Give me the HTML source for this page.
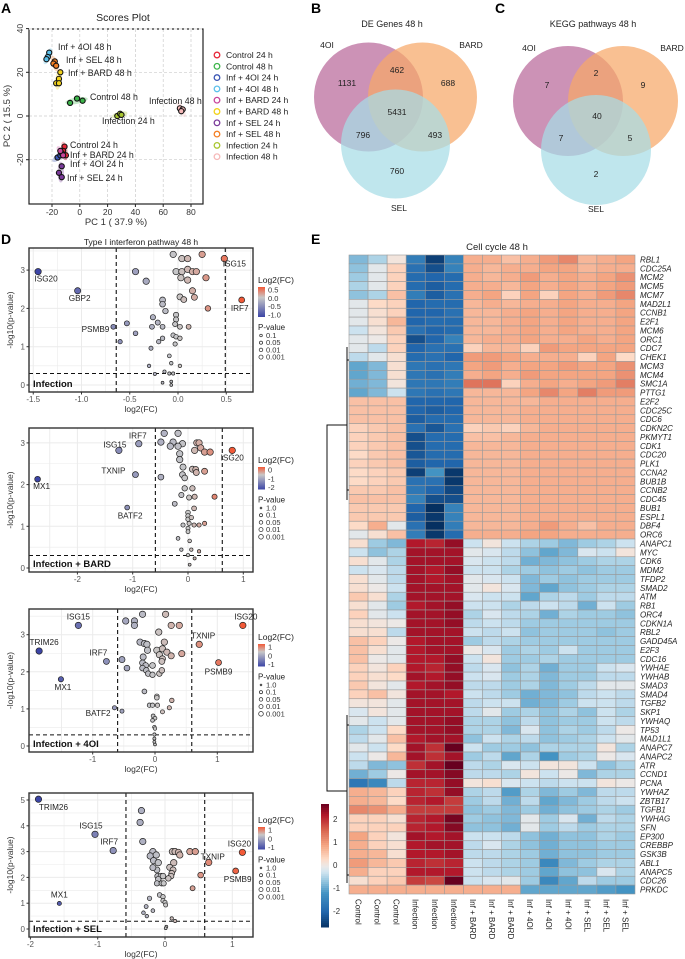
<!DOCTYPE html>
<html><head><meta charset="utf-8"><style>
html,body{margin:0;padding:0;background:#fff;}
svg{display:block;font-family:"Liberation Sans",Arial,sans-serif;}
</style></head><body>
<svg id="fig" width="685" height="959" viewBox="0 0 685 959" xmlns="http://www.w3.org/2000/svg">
<g font-weight="bold" font-size="14">
<text x="1" y="13">A</text>
<text x="311" y="13">B</text>
<text x="495" y="13">C</text>
<text x="1" y="244">D</text>
<text x="311" y="244">E</text>
</g>
<g id="pA"></g>
<g id="pB"></g>
<g id="pC"></g>
<g id="pD"></g>
<g id="pE"></g>
</svg>
<script>
// ---------- Panel A data ----------
const pcaGroups = ["Control 24 h","Control 48 h","Inf + 4OI 24 h","Inf + 4OI 48 h","Inf + BARD 24 h","Inf + BARD 48 h","Inf + SEL 24 h","Inf + SEL 48 h","Infection 24 h","Infection 48 h"];
const pcaColors = ["#e8283a","#3cb54a","#3a55b4","#5bc0eb","#c8459c","#f2d21b","#7a3a9a","#f47f24","#a9c62f","#f6b9b9"];
const pcaPC1 = [[-11,-12,-10],[-7,-2,2],[-16,-14],[-22,-23,-24],[-13,-12,-14],[-14,-15,-17,-15],[-13,-15,-13],[-18,-19,-17],[27,29,30],[72,74,73]];
const pcaPC2 = [[-14,-16,-18],[6,8,7],[-19,-18],[29,27,26],[-17,-18,-16],[20,17,15,15],[-23,-26,-28],[25,24,23],[0,1,0.5],[3.5,3,2.2]];
const pcaXTicks = [-20,0,20,40,60,80];
const pcaYTicks = [-20,0,20,40];
// ---------- Venn data ----------
const vennDE = ["1131","462","688","5431","796","493","760"];
const vennKEGG = ["7","2","9","40","7","5","2"];
const vennSets = ["4OI","BARD","SEL"];
// ---------- Volcano data ----------
const v1FC=[-1.45,-1.04,-0.67,0.48,0.66,-0.44,-0.33,-0.05,0.04,0.10,0.25,-0.02,0.04,0.10,0.15,0.19,0.03,0.10,0.29,0.15,0.17,0.02,0.06,0.31,-0.16,-0.16,-0.13,-0.02,-0.02,-0.26,-0.21,-0.27,-0.16,-0.53,-0.44,-0.03,0.02,0.11,-0.16,-0.05,-0.02,0.02,-0.03,-0.20,-0.28,-0.60,-0.09,-0.07,0.02,-0.30,-0.14,-0.24,-0.09,-0.05,-0.16,-0.07,-0.07];
const v1P=[2.96,2.46,1.52,3.30,2.22,2.96,2.71,3.41,3.30,3.30,3.41,2.96,2.96,3.02,2.96,2.96,2.80,2.74,2.80,2.46,2.29,2.30,2.23,2.00,2.22,2.11,1.93,1.83,1.71,1.77,1.63,1.52,1.52,1.61,1.35,1.59,1.52,1.52,1.22,1.30,1.26,1.22,1.07,1.13,0.96,1.13,0.76,0.57,0.50,0.50,0.35,0.29,0.30,0.30,0.06,0.09,0.0];
const v1Labels=["ISG20","GBP2","PSMB9","ISG15","IRF7"];
const v2FC=[-2.72,-1.25,-0.89,-0.95,-1.10,0.80,0.48,-0.43,-0.18,-0.49,-0.27,-0.10,-0.32,-0.18,0.16,0.20,0.23,0.12,0.30,0.40,-0.15,-0.15,-0.09,-0.10,0.08,0.14,0.15,0.30,-0.06,-0.49,-0.06,0.08,-0.12,0.02,0.12,-0.24,0.11,0,0,0,0.06,-0.09,0.02,0.11,0,0.20,0.30,0,-0.18,0.03,-0.12,0.06,0.20,0,0.12,0.03];
const v2P=[2.13,2.82,2.98,2.24,1.45,2.82,1.71,3.23,3.23,3.02,3.02,2.98,2.92,2.92,3.00,3.00,2.88,2.82,2.78,2.78,2.74,2.60,2.42,2.24,2.37,2.36,2.29,2.32,2.16,2.18,1.91,1.91,1.75,1.69,1.71,1.54,1.43,1.33,1.25,1.17,1.21,1.03,1.07,1.03,0.95,1.03,1.07,0.87,0.71,0.65,0.44,0.44,0.40,0.31,0.23,0.08];
const v2Labels=["MX1","ISG15","IRF7","TXNIP","BATF2","ISG20"];
const v3FC=[-1.23,-1.86,-1.51,-0.78,-0.65,-0.53,1.41,0.71,1.02,0.43,-0.20,0.17,-0.47,-0.33,-0.33,0.26,0.39,0.06,-0.24,-0.17,-0.13,0.15,0.03,-0.12,0.12,0.19,0.26,0.07,-0.53,-0.45,-0.19,-0.20,-0.15,-0.04,0.12,0.11,-0.20,-0.14,-0.11,-0.04,0.07,0.11,-0.17,0.03,0.03,-0.09,-0.04,0.04,0.12,0.23,0.27,-0.03,0,-0.04,-0.01,0,-0.01,-0.01,-0.01,0];
const v3P=[3.25,2.56,1.80,2.28,1.03,0.94,3.25,2.74,2.25,2.49,3.55,3.55,3.37,3.37,3.25,3.25,3.25,3.07,2.80,2.76,2.74,2.80,2.58,2.58,2.62,2.53,2.43,2.46,2.33,2.10,2.40,2.24,2.17,2.17,2.35,2.28,2.10,2.04,1.95,1.92,1.95,2.04,1.47,1.34,1.30,1.10,1.10,1.10,0.92,1.03,1.23,0.81,0.75,0.69,0.51,0.47,0.31,0.20,0.11,0.04];
const v3Labels=["ISG15","TRIM26","MX1","IRF7","BATF2","","ISG20","TXNIP","PSMB9"];
const v4FC=[-1.88,-1.04,-0.77,-1.57,1.15,0.65,1.05,0.53,0.41,-0.35,-0.37,-0.33,-0.18,-0.22,-0.13,0.11,0.15,0.20,0.22,0.37,0.45,-0.17,-0.10,-0.12,-0.18,0.13,0.07,0.12,0.10,0.09,0.05,-0.11,-0.06,-0.03,-0.10,-0.12,-0.05,-0.02,-0.23,-0.08,-0.03,-0.03,0,0.01,-0.28,-0.18,-0.32,-0.27,0.02,0.01,0.10,0.15];
const v4P=[5.03,3.67,3.04,0.99,2.97,2.58,2.25,2.09,1.58,4.59,4.13,3.39,3.00,2.83,2.87,3.00,3.00,2.97,2.87,3.00,3.00,2.65,2.57,2.29,2.38,2.57,2.39,2.29,2.16,2.05,1.96,2.05,2.05,2.05,1.93,1.77,1.77,1.77,1.19,1.32,1.25,1.10,1.03,0.93,0.87,0.71,0.63,0.50,0.09,0.03,0.41,0.31];
const v4Labels=["TRIM26","ISG15","IRF7","MX1","ISG20","TXNIP","PSMB9"];
const v1XTicks=[-1.5,-1.0,-0.5,0.0,0.5], v2XTicks=[-2,-1,0,1], v3XTicks=[-1,0,1], v4XTicks=[-2,-1,0,1];
const v1YTicks=[0,1,2,3], v2YTicks=[0,1,2,3], v3YTicks=[0,1,2,3], v4YTicks=[0,1,2,3,4,5];
const v1LegTicks=["0.5","0.0","-0.5","-1.0"], v2LegTicks=["0","-1","-2"], v3LegTicks=["1","0","-1"], v4LegTicks=["1","0","-1"];
const pvalLegend4=["0.1","0.05","0.01","0.001"], pvalLegend5=["1.0","0.1","0.05","0.01","0.001"];
// ---------- Heatmap data ----------
const hmCols=["Control","Control","Control","Infection","Infection","Infection","Inf + BARD","Inf + BARD","Inf + BARD","Inf + 4OI","Inf + 4OI","Inf + 4OI","Inf + SEL","Inf + SEL","Inf + SEL"];
const hmGenes=["RBL1","CDC25A","MCM2","MCM5","MCM7","MAD2L1","CCNB1","E2F1","MCM6","ORC1","CDC7","CHEK1","MCM3","MCM4","SMC1A","PTTG1","E2F2","CDC25C","CDC6","CDKN2C","PKMYT1","CDK1","CDC20","PLK1","CCNA2","BUB1B","CCNB2","CDC45","BUB1","ESPL1","DBF4","ORC6","ANAPC1","MYC","CDK6","MDM2","TFDP2","SMAD2","ATM","RB1","ORC4","CDKN1A","RBL2","GADD45A","E2F3","CDC16","YWHAE","YWHAB","SMAD3","SMAD4","TGFB2","SKP1","YWHAQ","TP53","MAD1L1","ANAPC7","ANAPC2","ATR","CCND1","PCNA","YWHAZ","ZBTB17","TGFB1","YWHAG","SFN","EP300","CREBBP","GSK3B","ABL1","ANAPC5","CDC26","PRKDC"];
const hmValues=[
[-0.8,-0.5,0.1,-1.6,-2.5,-1.5,0.8,0.8,0.6,0.8,1.0,1.2,0.7,0.8,0.9],
[-0.7,-0.1,0.4,-1.8,-2.3,-1.5,0.8,0.7,0.8,0.8,0.9,0.9,0.7,0.8,0.8],
[-0.6,-0.1,0.4,-1.9,-2.0,-1.9,0.8,0.7,0.8,1.0,0.8,0.9,0.8,0.9,1.1],
[-0.5,-0.1,0.4,-1.9,-2.1,-1.9,0.8,0.8,0.7,0.9,0.8,0.9,0.8,0.9,1.0],
[-0.7,-0.5,0.6,-1.6,-2.1,-1.8,0.8,0.9,0.4,0.9,0.4,0.9,0.8,1.0,1.2],
[-0.1,0.3,0.4,-2.0,-1.9,-1.9,0.7,0.8,0.7,0.8,0.8,0.9,0.8,0.8,0.9],
[-0.1,0.2,0.4,-2.0,-2.0,-1.8,0.7,0.7,0.8,0.9,0.8,0.9,0.8,0.8,0.9],
[-0.1,0.2,0.7,-2.0,-1.9,-1.9,0.7,0.7,0.8,0.9,0.8,0.9,0.8,0.8,0.9],
[-0.3,0.1,0.5,-1.8,-2.0,-1.9,0.7,0.7,0.8,0.9,0.8,0.9,0.8,0.8,0.9],
[-0.1,0.0,0.4,-2.3,-2.0,-1.5,0.7,0.8,0.8,0.9,0.8,0.8,0.9,0.8,0.9],
[-0.1,-0.4,0.4,-2.0,-1.8,-1.8,0.4,0.7,0.7,0.4,1.0,0.9,0.9,0.9,0.9],
[-0.4,-0.1,0.2,-1.9,-1.8,-2.0,1.0,1.0,0.9,0.8,0.8,0.8,0.4,0.9,0.3],
[-1.0,-0.8,0.2,-1.7,-1.8,-1.7,0.9,1.0,0.8,0.9,0.9,1.0,0.9,0.9,1.1],
[-1.0,-0.8,0.2,-1.7,-1.8,-1.6,0.8,0.9,0.8,1.0,0.9,0.9,0.9,0.9,1.1],
[-0.9,-0.8,0.1,-1.7,-1.7,-1.6,1.4,1.4,0.4,0.8,0.9,0.8,0.9,1.0,1.3],
[-1.0,-0.8,-0.3,-1.7,-1.8,-1.7,0.7,0.7,0.7,0.9,1.2,0.9,1.3,1.0,1.0],
[0.6,0.6,0.6,-2.0,-2.0,-2.0,0.7,0.7,0.7,0.7,0.8,0.8,0.8,0.8,0.8],
[0.6,0.6,0.6,-2.0,-2.1,-2.0,0.7,0.7,0.7,0.8,0.8,0.8,0.8,0.8,0.8],
[0.6,0.6,0.6,-2.1,-1.9,-1.9,0.7,0.7,0.7,0.8,0.8,0.8,0.8,0.8,0.8],
[0.4,0.5,0.6,-1.8,-2.2,-1.8,0.4,0.5,0.4,0.7,0.8,0.8,0.8,0.8,0.8],
[0.4,0.5,0.6,-2.3,-1.9,-1.9,0.6,0.6,0.7,0.8,0.8,0.8,0.8,0.8,0.8],
[0.4,0.5,0.6,-2.3,-1.9,-1.9,0.7,0.7,0.7,0.8,0.8,0.8,0.8,0.8,0.8],
[0.3,0.5,0.6,-2.2,-1.9,-1.9,0.7,0.7,0.7,0.8,0.8,0.8,0.8,0.8,0.8],
[0.4,0.5,0.6,-2.1,-2.0,-2.0,0.7,0.7,0.7,0.8,0.8,0.8,0.8,0.8,0.8],
[0.3,0.4,0.5,-2.5,-1.2,-2.6,0.7,0.7,0.7,0.8,0.8,0.8,0.8,0.8,0.8],
[0.3,0.4,0.5,-1.8,-1.8,-2.6,0.7,0.7,0.7,0.8,0.8,0.8,0.8,0.8,0.8],
[0.5,0.5,0.6,-1.7,-2.0,-2.4,0.7,0.7,0.7,0.8,0.8,0.8,0.8,0.8,0.8],
[0.6,0.6,0.6,-1.5,-2.3,-2.3,0.7,0.7,0.7,0.8,0.8,0.8,0.8,0.8,0.8],
[0.5,0.5,0.5,-2.0,-2.7,-1.5,0.7,0.7,0.7,0.8,0.8,0.8,0.8,0.8,0.8],
[0.5,0.5,0.5,-2.1,-2.6,-1.5,0.7,0.7,0.7,0.8,0.8,0.8,0.8,0.8,0.8],
[0.3,0.8,-0.1,-1.8,-2.7,-1.6,0.7,0.7,0.7,0.8,1.0,0.8,0.6,0.8,0.8],
[-0.1,0.2,0.6,-1.6,-2.6,-1.9,0.8,0.8,0.8,0.9,0.9,0.8,0.8,0.8,0.8],
[0.2,-0.6,-0.8,2.2,2.1,2.4,-0.3,0.1,-0.3,-0.5,-0.6,-0.8,-0.6,-0.5,-0.3],
[-0.3,-0.7,-0.5,2.3,2.3,2.3,-0.1,-0.2,-0.4,-0.7,-1.0,-0.8,-0.2,-0.3,0.1],
[0.2,-0.1,-0.5,2.3,2.3,2.3,-0.2,-0.3,-0.4,-0.9,-0.8,-0.7,-0.6,-0.5,-0.5],
[-0.3,-0.2,-0.4,2.3,2.2,2.4,-0.3,-0.3,-0.5,-0.6,-0.7,-0.6,-0.7,-0.6,-0.6],
[0.2,-0.1,-0.4,2.3,2.2,2.3,-0.1,-0.2,-0.3,-0.8,-0.6,-0.7,-0.6,-0.6,-0.6],
[0.2,0.0,-0.3,2.3,2.3,2.3,-0.1,0.1,-0.2,-0.8,-1.0,-0.7,-0.6,-0.5,-0.5],
[0.5,0.2,-0.5,2.3,2.3,2.3,-0.2,-0.3,-0.3,-1.0,-0.5,-0.4,-0.6,-0.4,-0.4],
[0.2,-0.1,-0.6,2.2,2.3,2.4,-0.3,-0.3,-0.5,-0.4,-0.3,-0.4,-0.9,-0.3,-0.6],
[0.4,-0.1,-0.3,2.3,2.3,2.4,-0.5,-0.2,-0.4,-0.5,-0.9,-0.5,-0.6,-0.6,-0.7],
[0.2,0.1,0.0,2.3,2.3,2.4,-0.4,-0.3,-0.4,-0.6,-0.6,-0.6,-0.6,-0.6,-0.6],
[0.2,0.2,-0.4,2.3,2.3,2.3,-0.3,-0.4,-0.3,-0.7,-0.6,-0.6,-0.6,-0.7,-0.6],
[0.6,0.4,0.0,2.2,2.3,2.3,-0.6,-0.4,-0.5,-0.6,-0.6,-0.6,-0.6,-0.6,-0.6],
[0.6,0.2,-0.1,2.2,2.3,2.3,0.0,-0.2,-0.6,-0.5,-0.6,-0.3,-0.6,-0.6,-0.6],
[0.6,0.0,-0.1,2.2,2.2,2.4,-0.3,0.1,-0.6,-0.6,-0.5,-0.6,-0.6,-0.6,-0.6],
[0.4,0.1,0.4,2.2,2.1,2.4,-0.4,-0.2,-0.7,-0.5,-0.9,-0.6,-0.6,-0.3,-0.2],
[0.4,0.2,0.3,2.3,2.2,2.4,-0.3,-0.2,-0.6,-0.5,-0.8,-0.6,-0.6,-0.4,-0.4],
[0.5,0.1,-0.1,2.2,2.3,2.4,-0.4,-0.4,-0.6,-0.5,-0.8,-0.6,-0.4,-0.1,-0.1],
[0.4,0.6,0.1,2.3,2.3,2.2,-0.3,-0.4,-0.6,-0.9,-0.8,-0.7,-0.4,-0.3,-0.4],
[0.1,0.1,-0.1,2.3,2.3,2.3,-0.4,-0.3,-0.3,-0.9,-0.8,-0.6,-0.3,-0.3,-0.4],
[-0.2,0.1,-0.1,2.3,2.3,2.3,-0.4,-0.1,-0.6,-0.5,-0.7,-0.5,-0.7,-0.3,-0.5],
[-0.1,-0.3,-0.1,2.3,2.3,2.4,-0.5,-0.5,-0.7,-0.4,-0.7,-0.6,-0.6,-0.3,-0.4],
[-0.5,-0.3,0.3,2.3,2.3,2.4,-0.5,-0.5,-0.8,-0.2,-0.7,-0.5,-0.6,-0.4,0.0],
[-0.4,-0.1,0.6,2.2,2.3,2.3,-0.7,-0.3,-0.5,-0.4,-0.7,-0.6,-0.5,-0.3,-0.1],
[-0.1,-0.3,0.3,2.3,2.0,2.7,-0.3,-0.6,-0.6,-0.7,-0.5,-0.5,-0.5,0.1,-0.5],
[-0.3,0.0,0.7,2.3,2.0,2.3,-0.6,-0.4,-1.0,-0.5,-1.2,-0.6,-0.5,0.0,-0.2],
[-0.4,-0.8,-0.7,2.0,2.3,2.8,-0.4,-0.5,-0.2,-0.3,0.1,0.1,-0.3,-0.7,-0.5],
[-0.9,-0.6,0.0,2.3,2.3,2.5,-0.4,-0.4,-0.5,0.1,-0.3,0.0,-0.8,-0.5,-0.5],
[-1.7,-1.4,-0.4,2.1,2.1,2.4,0.1,0.2,-0.2,-0.3,-0.4,-0.3,-0.3,0.1,0.0],
[0.8,0.7,0.4,2.1,2.0,2.4,-0.5,-0.4,-1.1,-0.5,-0.8,-0.6,-0.8,-0.4,-0.4],
[0.8,0.7,0.3,2.1,2.2,1.9,-0.6,-0.4,-0.9,-0.4,-1.0,-0.8,-0.6,-0.4,-0.3],
[1.2,1.1,0.8,1.9,1.9,1.9,-0.7,-0.6,-0.8,-0.6,-0.9,-0.7,-0.6,-0.5,-0.6],
[0.4,0.4,0.2,2.1,2.2,2.6,-0.6,-0.7,-0.8,-0.1,-0.6,-0.2,-0.9,-0.4,-0.5],
[0.4,0.4,0.4,2.1,2.2,2.5,-0.7,-0.7,-0.9,-0.1,-0.6,-0.4,-0.6,-0.5,-0.5],
[0.9,0.4,0.1,2.3,2.2,2.3,-0.3,-0.3,-0.4,-0.7,-0.9,-0.7,-0.7,-0.5,-0.6],
[0.8,0.4,0.2,2.2,2.3,2.3,-0.4,-0.2,-0.5,-0.7,-0.9,-0.7,-0.7,-0.6,-0.6],
[0.8,0.7,0.2,2.2,2.2,2.3,-0.4,-0.4,-0.5,-0.6,-0.9,-0.7,-0.7,-0.6,-0.6],
[1.0,0.7,0.5,2.1,2.0,2.1,-0.3,-0.4,-0.5,-0.6,-1.4,-0.8,-0.6,-0.5,-0.5],
[0.8,0.4,0.4,2.2,2.2,2.2,-0.3,-0.4,-0.5,-0.6,-1.0,-0.7,-0.7,-0.2,-0.5],
[0.2,0.4,0.5,1.9,1.8,2.7,-0.3,-0.2,-0.1,-0.6,-1.4,-1.0,-0.4,-0.6,-0.6],
[0.8,0.8,0.8,0.8,0.8,0.8,0.8,0.8,0.8,-1.0,-1.0,-1.0,-1.0,-1.1,-1.2]];
const hmLegendTicks=[2,1,0,-1,-2];

// ---------- helpers ----------
const NS="http://www.w3.org/2000/svg";
function mk(parent,tag,attrs,text){const e=document.createElementNS(NS,tag);for(const k in attrs)e.setAttribute(k,attrs[k]);if(text!==undefined)e.textContent=text;parent.appendChild(e);return e;}
function hex2rgb(h){return [parseInt(h.substr(1,2),16),parseInt(h.substr(3,2),16),parseInt(h.substr(5,2),16)];}
function mix(a,b,t){const A=hex2rgb(a),B=hex2rgb(b);return "rgb("+A.map((v,i)=>Math.round(v+(B[i]-v)*t)).join(",")+")";}

// ---------- Panel A ----------
(function(){
  const g=document.getElementById('pA');
  const L=29,R=203,T=29,B=204;
  const sx=v=>52+(v+20)*1.39, sy=v=>116-v*2.185;
  mk(g,'text',{x:123,y:21,'text-anchor':'middle','font-size':10.5,fill:'#222',},'Scores Plot');
  const grid=mk(g,'g',{});
  pcaXTicks.forEach(t=>{const l=mk(grid,'line',{x1:sx(t),x2:sx(t),y1:T,y2:B,stroke:'#ccc','stroke-dasharray':'3,2','stroke-width':0.7});});
  pcaYTicks.forEach(t=>{const l=mk(grid,'line',{x1:L,x2:R,y1:sy(t),y2:sy(t),stroke:'#ccc','stroke-dasharray':'3,2','stroke-width':0.7});});
  pcaGroups.forEach((n,i)=>{
    const xs=pcaPC1[i].map(sx), ys=pcaPC2[i].map(sy);
    const cx=xs.reduce((a,b)=>a+b)/xs.length, cy=ys.reduce((a,b)=>a+b)/ys.length;
    let dx=xs[xs.length-1]-xs[0], dy=ys[ys.length-1]-ys[0];
    let len=Math.max(Math.hypot(dx,dy),6), ang=Math.atan2(dy,dx)*180/Math.PI;
    const e=mk(g,'ellipse',{cx:cx,cy:cy,rx:len/2+5,ry:3.2,transform:`rotate(${ang} ${cx} ${cy})`,fill:pcaColors[i],opacity:0.3});
    
  });
  pcaGroups.forEach((n,i)=>{
    pcaPC1[i].forEach((v,j)=>{
      const c=mk(g,'circle',{cx:sx(v),cy:sy(pcaPC2[i][j]),r:2.6,fill:pcaColors[i],stroke:'#111','stroke-width':1.1});
      
    });
  });
  mk(g,'rect',{x:L,y:T,width:R-L,height:B-T,fill:'none',stroke:'#222','stroke-width':1.2,});
  mk(g,'line',{x1:L,x2:R,y1:T,y2:T,stroke:'#fff','stroke-width':1.2,'stroke-dasharray':'3,2'});
  const lbl=[["Inf + 4OI 48 h",58,50],["Inf + SEL 48 h",66,63],["Inf + BARD 48 h",68,76],["Control 48 h",90,100],["Infection 48 h",149,104],["Infection 24 h",102,124],["Control 24 h",70,148],["Inf + BARD 24 h",70,158],["Inf + 4OI 24 h",70,167],["Inf + SEL 24 h",67,181]];
  lbl.forEach(a=>{mk(g,'text',{x:a[1],y:a[2],'font-size':8.8,fill:'#222',},a[0]);});
  pcaXTicks.forEach(t=>{mk(g,'line',{x1:sx(t),x2:sx(t),y1:B,y2:B+3,stroke:'#222'});mk(g,'text',{x:sx(t),y:B+11,'text-anchor':'middle','font-size':8.5,fill:'#333',},t);});
  pcaYTicks.forEach(t=>{mk(g,'line',{x1:L-3,x2:L,y1:sy(t),y2:sy(t),stroke:'#222'});mk(g,'text',{x:L-6,y:sy(t),'text-anchor':'middle','font-size':8.5,fill:'#333',transform:`rotate(-90 ${L-6} ${sy(t)})`,},t);});
  mk(g,'text',{x:116,y:225,'text-anchor':'middle','font-size':9.5,fill:'#333',},'PC 1 ( 37.9 %)');
  mk(g,'text',{x:10,y:116,'text-anchor':'middle','font-size':9.5,fill:'#333',transform:'rotate(-90 10 116)',},'PC 2 ( 15.5 %)');
  pcaGroups.forEach((n,i)=>{
    const y=55+i*11.3;
    const le=mk(g,'g',{});
    mk(le,'circle',{cx:217,cy:y,r:2.8,fill:'none',stroke:pcaColors[i],'stroke-width':1.3});
    mk(le,'text',{x:226,y:y+3,'font-size':8.6,fill:'#222'},n);
  });
})();

// ---------- Venns ----------
function venn(id,title,tx,c1,c2,c3,r,nums,numPos,labPos){
  const g=document.getElementById(id);
  mk(g,'text',{x:tx,y:27,'text-anchor':'middle','font-size':9,fill:'#222',},title);
  const cols=['#b9689a','#f6a868','#a6dce6'];
  [c1,c2,c3].forEach((c,i)=>{const e=mk(g,'circle',{cx:c[0],cy:c[1],r:r,fill:cols[i],'fill-opacity':0.72});});
  nums.forEach((n,i)=>{const t=mk(g,'text',{x:numPos[i][0],y:numPos[i][1],'text-anchor':'middle','font-size':8.5,fill:'#222'},n);});
  vennSets.forEach((s,i)=>{const t=mk(g,'text',{x:labPos[i][0],y:labPos[i][1],'text-anchor':'middle','font-size':8.5,fill:'#222'},s);});
}
venn('pB','DE Genes 48 h',392,[368.5,97],[422.5,97],[395.5,144],54.5,vennDE,
 [[347,86],[397,73],[448,86],[397,115],[363,138],[435,138],[397,174]],[[327,48],[471,48],[399,211]]);
venn('pC','KEGG pathways 48 h',593,[568,101],[623,101],[596,150],55,vennKEGG,
 [[547,88],[596,76],[643,88],[597,119],[561,141],[630,141],[596,177]],[[529,51],[672,51],[596,212]]);

// ---------- Volcanoes ----------
function volcano(cfg,fc,pv,labels,xt,yt,legT,pLeg){
  const g=mk(document.getElementById('pD'),'g',{});
  
  const [L,T,R,B]=cfg.box;
  const sx=v=>cfg.x0+v*cfg.xu, sy=v=>cfg.y0-v*cfg.yu;
  mk(g,'rect',{x:L,y:T,width:R-L,height:B-T,fill:'#fff'});
  xt.forEach(t=>{[t,t+(xt[1]-xt[0])/2].forEach((u,k)=>{const x=sx(u);if(x>L&&x<R)mk(g,'line',{x1:x,x2:x,y1:T,y2:B,stroke:'#ebebeb','stroke-width':k?0.6:1});});
    const x=sx(xt[0]-(xt[1]-xt[0])/2); if(x>L) mk(g,'line',{x1:x,x2:x,y1:T,y2:B,stroke:'#ebebeb','stroke-width':0.6});});
  yt.forEach(t=>{[t,t+0.5].forEach((u,k)=>{const y=sy(u);if(y>T&&y<B)mk(g,'line',{x1:L,x2:R,y1:y,y2:y,stroke:'#ebebeb','stroke-width':k?0.6:1});});});
  cfg.vl.forEach(v=>{const l=mk(g,'line',{x1:sx(v),x2:sx(v),y1:T,y2:B,stroke:'#111','stroke-width':1.1,'stroke-dasharray':'4,3'});});
  const hl=mk(g,'line',{x1:L,x2:R,y1:sy(0.3),y2:sy(0.3),stroke:'#111','stroke-width':1.1,'stroke-dasharray':'4,3'});
  
  const mn=Math.min(...fc), mx=Math.max(...fc);
  const col=v=>v<0?mix('#c8c8c8','#3c45a6',Math.min(1,v/mn)):mix('#c8c8c8','#f25a38',Math.min(1,v/mx));
  fc.forEach((v,i)=>{
    const r=Math.min(3.2,1.4+pv[i]*0.7);
    const c=mk(g,'circle',{cx:sx(v),cy:sy(pv[i]),r:r,fill:col(v),stroke:'#222','stroke-width':0.7});
    
  });
  labels.forEach((s,i)=>{ if(!s) return; const o=cfg.lo[s]||[0,10,'middle'];
    const t=mk(g,'text',{x:sx(fc[i])+o[0],y:sy(pv[i])+o[1],'text-anchor':o[2]||'middle','font-size':8.2,fill:'#222'},s);
    });
  mk(g,'text',{x:L+4,y:B-5,'font-size':9.5,'font-weight':'bold',fill:'#111',},cfg.label);
  mk(g,'rect',{x:L,y:T,width:R-L,height:B-T,fill:'none',stroke:'#333','stroke-width':1.4});
  xt.forEach(t=>{mk(g,'line',{x1:sx(t),x2:sx(t),y1:B,y2:B+2.5,stroke:'#333'});mk(g,'text',{x:sx(t),y:B+10,'text-anchor':'middle','font-size':8,fill:'#555',},cfg.xfmt?t.toFixed(1):t);});
  yt.forEach(t=>{mk(g,'line',{x1:L-2.5,x2:L,y1:sy(t),y2:sy(t),stroke:'#333'});mk(g,'text',{x:L-4,y:sy(t)+3,'text-anchor':'end','font-size':8,fill:'#555',},t);});
  mk(g,'text',{x:(L+R)/2,y:B+20,'text-anchor':'middle','font-size':8.5,fill:'#333',},'log2(FC)');
  const ym=(T+B)/2;
  mk(g,'text',{x:13,y:ym,'text-anchor':'middle','font-size':8.5,fill:'#333',transform:`rotate(-90 13 ${ym})`,},'-log10(p-value)');
  const lg=mk(g,'g',{});
  const ly=cfg.leg;
  mk(lg,'text',{x:258,y:ly,'font-size':8.5,fill:'#222'},'Log2(FC)');
  const gid='grad'+cfg.name;
  const defs=mk(lg,'defs',{});const lgr=mk(defs,'linearGradient',{id:gid,x1:0,y1:0,x2:0,y2:1});
  mk(lgr,'stop',{offset:'0','stop-color':'#f25a38'});mk(lgr,'stop',{offset:'0.35','stop-color':'#c8c8c8'});mk(lgr,'stop',{offset:'1','stop-color':'#3c45a6'});
  const bh=legT.length*7.5;
  mk(lg,'rect',{x:258,y:ly+4,width:7,height:bh,fill:`url(#${gid})`});
  legT.forEach((t,i)=>{const yy=ly+7+i*(bh-5)/(legT.length-1);mk(lg,'text',{x:268,y:yy+2.5,'font-size':7.5,fill:'#333'},t);});
  const py=ly+bh+17;
  mk(lg,'text',{x:258,y:py,'font-size':8,fill:'#222'},'P-value');
  pLeg.forEach((t,i)=>{const yy=py+8+i*7.2;const rr=(t==='1.0')?0.9:1.3+i*0.25;mk(lg,'circle',{cx:261,cy:yy-2.5,r:rr,fill:'#fff',stroke:'#222','stroke-width':0.7});mk(lg,'text',{x:266,y:yy,'font-size':7.5,fill:'#333'},t);});
}
mk(document.getElementById('pD'),'text',{x:141,y:245,'text-anchor':'middle','font-size':8.5,fill:'#222',},'Type I interferon pathway 48 h');
volcano({name:'volcano-infection',box:[29,248,253,392],x0:178,xu:96.5,y0:385,yu:38.3,vl:[-0.64,0.49],label:'Infection',leg:283,xfmt:true,
  lo:{ISG20:[8,10],GBP2:[2,10],PSMB9:[-4,5,'end'],ISG15:[10,8],IRF7:[-2,11]}},v1FC,v1P,v1Labels,v1XTicks,v1YTicks,v1LegTicks,pvalLegend4);
volcano({name:'volcano-bard',box:[29,428,253,572],x0:188,xu:55.3,y0:568,yu:41.7,vl:[-0.59,0.62],label:'Infection + BARD',leg:463,
  lo:{MX1:[4,10],ISG15:[-4,-3],IRF7:[-1,-5],TXNIP:[-22,-1],BATF2:[3,11],ISG20:[0,10]}},v2FC,v2P,v2Labels,v2XTicks,v2YTicks,v2LegTicks,pvalLegend5);
volcano({name:'volcano-4oi',box:[29,609,253,752],x0:155,xu:62.3,y0:746,yu:37.1,vl:[-0.6,0.59],label:'Infection + 4OI',leg:640,
  lo:{ISG15:[0,-6],TRIM26:[5,-6],MX1:[2,11],IRF7:[-8,-6],BATF2:[-4,8,'end'],ISG20:[3,-6],TXNIP:[4,-6],PSMB9:[0,12]}},v3FC,v3P,v3Labels,v3XTicks,v3YTicks,v3LegTicks,pvalLegend5);
volcano({name:'volcano-sel',box:[29,793,253,937],x0:165,xu:67.3,y0:929,yu:25.8,vl:[-0.58,0.59],label:'Infection + SEL',leg:823,
  lo:{TRIM26:[15,11],ISG15:[-4,-6],IRF7:[-4,-6],MX1:[0,-6],ISG20:[-3,-6],TXNIP:[4,-3],PSMB9:[2,11]}},v4FC,v4P,v4Labels,v4XTicks,v4YTicks,v4LegTicks,pvalLegend5);

// ---------- Heatmap ----------
(function(){
  const g=document.getElementById('pE');
  const X0=349, Y0=255, cw=(635-349)/15, rh=(894-255)/72;
  const stops=[[-2.7,'#053061'],[-2.0,'#2166ac'],[-1.2,'#4393c3'],[-0.6,'#9ecbe2'],[-0.25,'#d4e6f1'],[0,'#ece8e6'],[0.3,'#fddbc7'],[0.9,'#f4a582'],[1.6,'#d6604d'],[2.2,'#b2182b'],[2.7,'#67001f']];
  const cmap=v=>{if(v<=stops[0][0])return stops[0][1];for(let i=1;i<stops.length;i++){if(v<=stops[i][0]){const t=(v-stops[i-1][0])/(stops[i][0]-stops[i-1][0]);return mix(stops[i-1][1],stops[i][1],t);}}return stops[stops.length-1][1];};
  mk(g,'text',{x:497,y:250,'text-anchor':'middle','font-size':9.5,fill:'#222',},'Cell cycle 48 h');
  hmValues.forEach((row,r)=>{row.forEach((v,c)=>{
    const e=mk(g,'rect',{x:X0+c*cw,y:Y0+r*rh,width:cw,height:rh,fill:cmap(v),stroke:'#9a9a9a','stroke-width':0.6});
    
  });});
  hmGenes.forEach((n,r)=>{const t=mk(g,'text',{x:640,y:Y0+r*rh+rh-1.5,'font-size':8,'font-style':'italic',fill:'#222'},n);});
  hmCols.forEach((n,c)=>{const x=X0+c*cw+cw/2-3,y=899;const t=mk(g,'text',{x:x,y:y,'font-size':8,fill:'#222',transform:`rotate(90 ${x} ${y})`},n);});
  const d=mk(g,'g',{stroke:'#111','stroke-width':1,fill:'none',});
  mk(d,'path',{d:'M347,347 V500 M347,425 H327 V791 H347 M347,715 V883'});
  mk(d,'path',{d:'M347,360 H349 M347,490 H349 M347,725 H349 M347,875 H349'});
  const cb=mk(g,'g',{});
  const top=804,bot=927,vt=2.65,vb=-2.7;
  for(let i=0;i<60;i++){const v=vt-(vt-vb)*i/60;mk(cb,'rect',{x:321,y:top+(bot-top)*i/60,width:8,height:(bot-top)/60+0.5,fill:cmap(v)});}
  hmLegendTicks.forEach(t=>{const y=top+(vt-t)/(vt-vb)*(bot-top);mk(cb,'text',{x:333,y:y+3,'font-size':8,fill:'#333'},t);});
})();
</script>
</body></html>
